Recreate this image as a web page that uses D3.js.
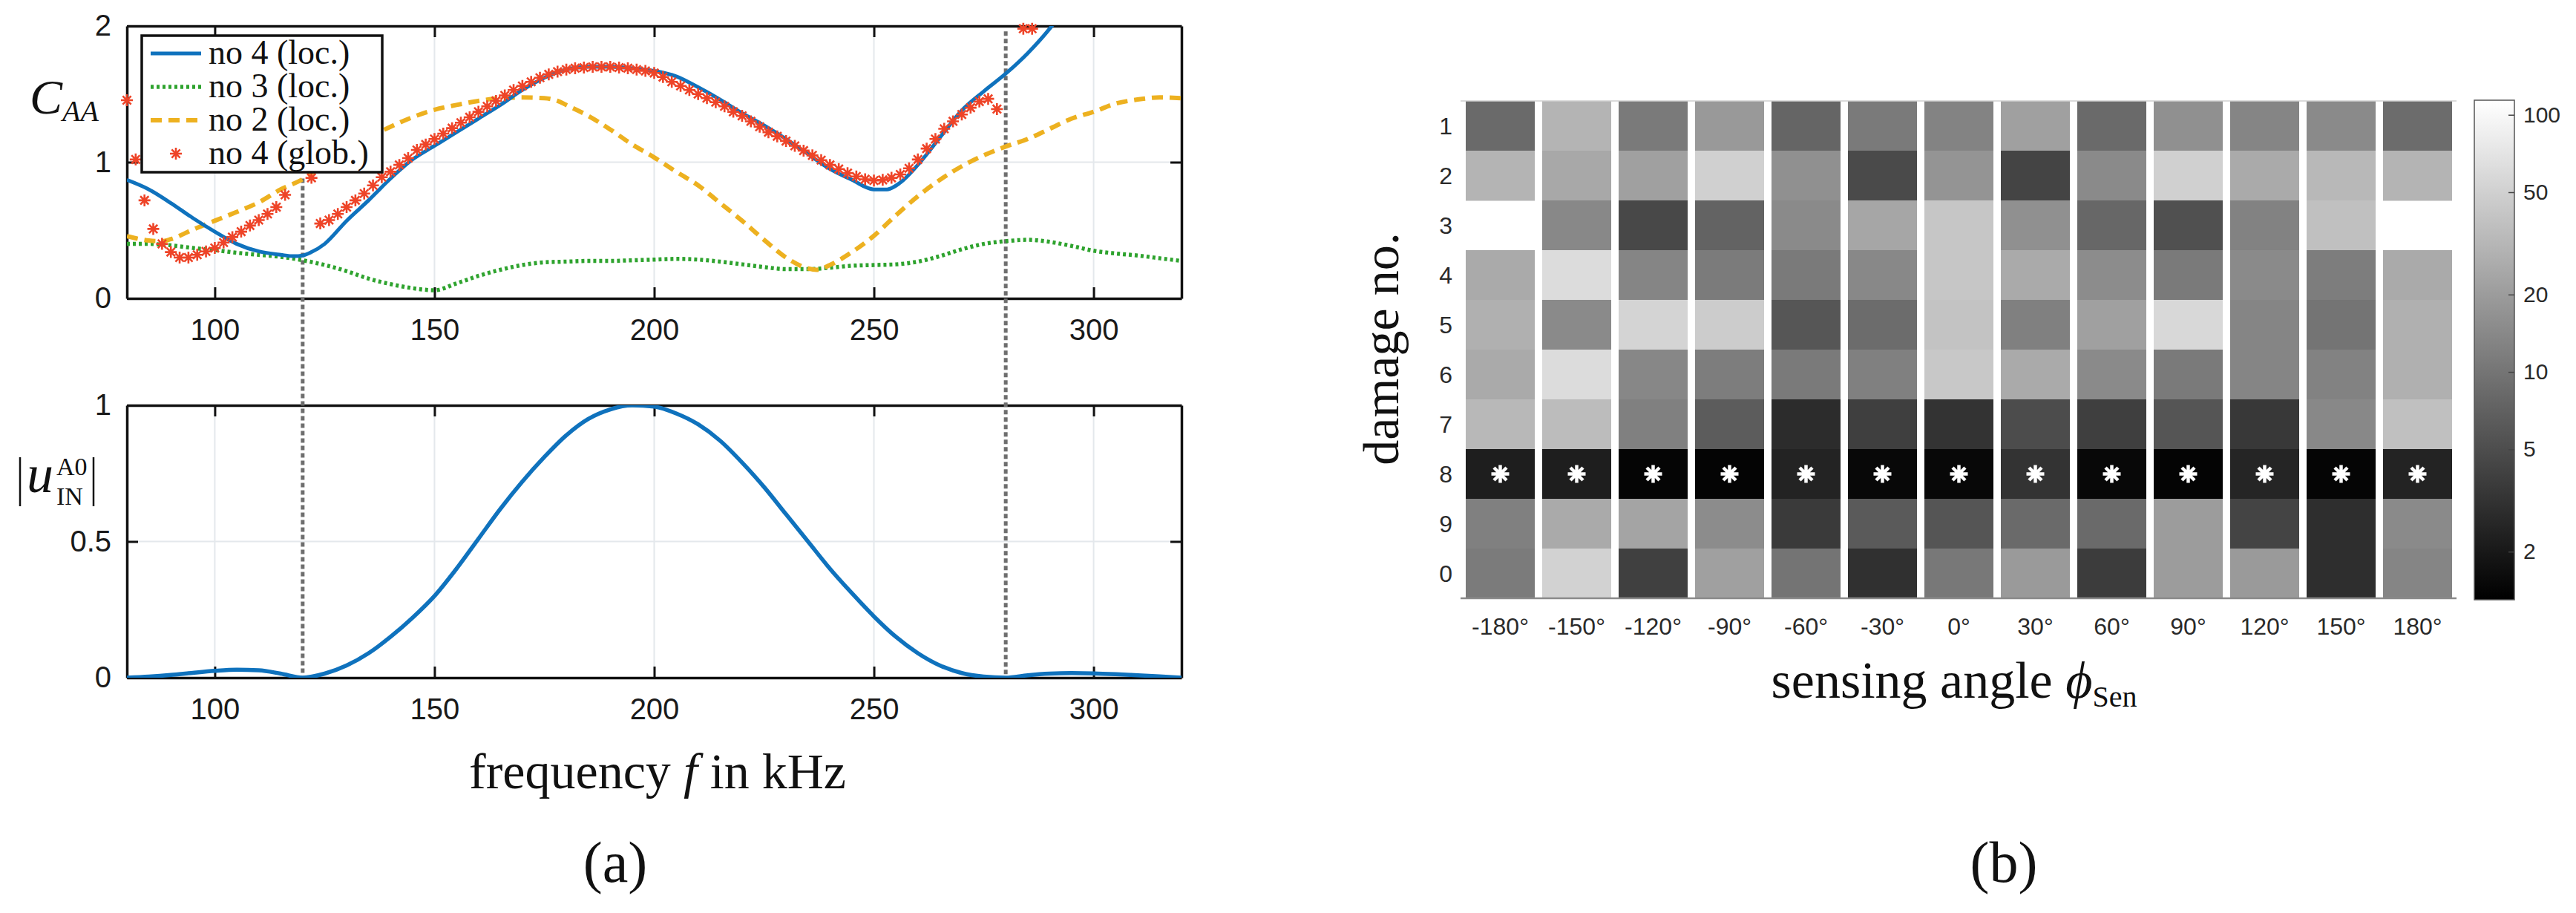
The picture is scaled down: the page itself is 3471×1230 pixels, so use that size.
<!DOCTYPE html>
<html>
<head>
<meta charset="utf-8">
<script src="https://cdn.jsdelivr.net/npm/d3@7"></script>
<style>
  body { margin: 0; background: #fff; }
  svg text { font-family: "Liberation Sans", Arial, sans-serif; }
  .serif, svg text.serif { font-family: "Liberation Serif", "Times New Roman", serif; }
</style>
</head>
<body>
<svg id="fig" width="3471" height="1230"></svg>
<script>
// ---------- panel (a), top: C_AA over frequency ----------
const xTicks = [100, 150, 200, 250, 300];

const blueF = [80,85,90,95,100,105,110,115,118,120,122,125,130,135,140,145,150,155,160,165,170,175,180,185,190,195,200,205,210,215,220,225,230,235,240,245,250,253,256,260,265,270,275,280,285,290,295];
const blueC = [0.87,0.80,0.70,0.59,0.49,0.40,0.345,0.32,0.31,0.315,0.34,0.40,0.57,0.72,0.88,1.02,1.12,1.22,1.32,1.42,1.53,1.62,1.68,1.70,1.70,1.69,1.67,1.63,1.55,1.46,1.36,1.27,1.17,1.06,0.95,0.87,0.80,0.80,0.85,0.98,1.18,1.38,1.52,1.65,1.80,1.98,2.2];

const greenF = [80,85,90,95,100,105,110,115,120,125,130,135,140,145,150,155,160,165,170,175,180,185,190,195,200,205,210,215,220,225,230,235,240,245,250,255,260,265,270,275,280,285,290,295,300,305,310,315,320];
const greenC = [0.40,0.40,0.39,0.37,0.355,0.335,0.32,0.305,0.28,0.245,0.20,0.145,0.105,0.075,0.06,0.11,0.165,0.21,0.245,0.265,0.27,0.275,0.275,0.28,0.285,0.29,0.285,0.27,0.25,0.23,0.215,0.215,0.225,0.24,0.245,0.25,0.27,0.31,0.36,0.40,0.42,0.43,0.415,0.385,0.35,0.33,0.315,0.295,0.275];

const yellowF = [80,85,88,90,95,100,105,110,115,120,125,130,135,140,145,150,155,160,165,170,175,178,180,185,190,195,200,205,210,215,220,225,230,235,237,240,245,250,255,260,265,270,275,280,285,290,295,300,305,310,315,320];
const yellowC = [0.457,0.425,0.42,0.435,0.505,0.57,0.635,0.705,0.80,0.875,0.99,1.08,1.18,1.26,1.33,1.385,1.42,1.45,1.47,1.475,1.47,1.45,1.42,1.34,1.24,1.13,1.035,0.93,0.83,0.70,0.57,0.43,0.30,0.22,0.21,0.245,0.34,0.46,0.61,0.75,0.87,0.97,1.05,1.115,1.17,1.245,1.32,1.37,1.43,1.46,1.475,1.47];

const redF = [80,82,84,86,88,90,92,94,96,98,100,102,104,106,108,110,112,114,116,122,
  124,126,128,130,132,134,136,138,140,142,144,146,148,150,152,154,156,158,160,162,164,166,168,170,172,174,176,178,180,182,184,186,188,190,192,194,196,198,200,202,204,206,208,210,212,214,216,218,220,222,224,226,228,230,232,234,236,238,240,242,244,246,248,250,252,254,256,258,260,262,264,266,268,270,272,274,276,278,284,286];
const redC = [1.455,1.02,0.72,0.51,0.40,0.34,0.30,0.30,0.32,0.345,0.37,0.41,0.45,0.49,0.535,0.575,0.62,0.67,0.76,0.885,
  0.55,0.575,0.62,0.67,0.72,0.77,0.83,0.89,0.93,0.98,1.03,1.09,1.13,1.17,1.21,1.25,1.29,1.33,1.37,1.41,1.45,1.49,1.53,1.56,1.59,1.62,1.645,1.665,1.68,1.69,1.695,1.70,1.70,1.70,1.695,1.69,1.68,1.67,1.655,1.625,1.59,1.56,1.53,1.50,1.47,1.44,1.41,1.37,1.34,1.30,1.26,1.22,1.19,1.155,1.12,1.085,1.05,1.015,0.98,0.95,0.92,0.895,0.875,0.865,0.87,0.885,0.91,0.955,1.02,1.10,1.17,1.245,1.30,1.35,1.40,1.445,1.465,1.39,1.98,1.98];

// ---------- panel (a), bottom: |u_IN^A0| ----------
const uF = [80,85,90,95,100,105,110,115,120,125,130,135,140,145,150,155,160,165,170,175,180,185,190,195,200,205,210,215,220,225,230,235,240,245,250,255,260,265,270,275,280,285,290,295,300,305,310,315,320];
const uVal = [0.0,0.004,0.01,0.018,0.025,0.029,0.027,0.015,0.0,0.015,0.045,0.09,0.15,0.22,0.30,0.40,0.51,0.62,0.72,0.81,0.89,0.95,0.985,1.0,0.995,0.97,0.93,0.87,0.79,0.70,0.60,0.50,0.40,0.31,0.225,0.15,0.09,0.045,0.017,0.004,0.0,0.009,0.015,0.017,0.016,0.013,0.009,0.005,0.0];

// band edges (dotted verticals): frequency and the C_AA level where they start
const edgeF = [120, 280];
const edgeTop = [0.88, 1.96];

// ---------- panel (b): heat map ----------
const angleLabels = ["-180°","-150°","-120°","-90°","-60°","-30°","0°","30°","60°","90°","120°","150°","180°"];
const damageLabels = ["1","2","3","4","5","6","7","8","9","0"];
const damageRows = [
  [8.4, 30.6, 11.1, 19, 7.7, 11.1, 13, 21.5, 8.4, 16.3, 13.4, 14.6, 8.7],
  [30.6, 24.8, 21.5, 50, 16.3, 4.8, 17.5, 4.3, 14.6, 50, 25.7, 32.8, 30.6],
  [null, 14.1, 4.6, 7.4, 14.6, 24, 42, 16.3, 7.9, 5.3, 12.7, 37.8, null],
  [25.7, 61.7, 13.4, 11.3, 11.1, 14.1, 42, 25.7, 15.2, 11.1, 14.6, 11.7, 25.7],
  [28.5, 14.6, 53.6, 46.6, 5.9, 8.7, 40, 12.3, 21.5, 57.5, 13.4, 10, 28.5],
  [25.7, 61.7, 13.9, 11.7, 11.1, 12.3, 43.4, 25.7, 14.6, 11.1, 13.4, 12.7, 28.5],
  [32.8, 35, 12.3, 6.5, 2.8, 3.9, 3.2, 4.9, 3.9, 5.8, 3.5, 14.1, 37.8],
  [2.2, 2.2, 1.42, 1.39, 2.4, 1.5, 1.5, 3.2, 1.5, 1.39, 2.5, 1.42, 2.4],
  [12.3, 25.7, 23, 15.2, 3.6, 6.3, 5.8, 8.4, 8.4, 20, 4.3, 2.9, 14.6],
  [11.3, 51.8, 4.0, 21.5, 10, 3.0, 10.7, 19.4, 3.7, 20, 19.4, 2.9, 13.4]
];
const cbDomain = [1.3, 114];
const cbTicks = [2, 5, 10, 20, 50, 100];

// ============================================================
const svg = d3.select("#fig");
svg.append("rect").attr("width", 3471).attr("height", 1230).attr("fill", "#fff");

const x = d3.scaleLinear().domain([80, 320]).range([171, 1592]);
const yTop = d3.scaleLinear().domain([0, 2]).range([402, 35]);
const yBot = d3.scaleLinear().domain([0, 1]).range([913, 546]);

function zip(fs, vs) { return fs.map((f, i) => ({ f, v: vs[i] })); }

function drawFrame(y, yTicks, yFmt, id) {
  const [y0, y1] = y.range();
  const g = svg.append("g");
  // grid
  g.selectAll(".gx").data(xTicks).enter().append("line")
    .attr("x1", d => x(d)).attr("x2", d => x(d)).attr("y1", y0).attr("y2", y1)
    .attr("stroke", "#e4e8ec").attr("stroke-width", 2);
  g.selectAll(".gy").data(yTicks.filter(t => t > y.domain()[0] && t < y.domain()[1])).enter().append("line")
    .attr("x1", x.range()[0]).attr("x2", x.range()[1]).attr("y1", d => y(d)).attr("y2", d => y(d))
    .attr("stroke", "#e4e8ec").attr("stroke-width", 2);

  const styleAxis = sel => {
    sel.select(".domain").attr("stroke", "#111").attr("stroke-width", 3.5);
    sel.selectAll(".tick line").attr("stroke", "#111").attr("stroke-width", 3);
    sel.selectAll(".tick text").attr("font-size", 40).attr("fill", "#1a1a1a");
  };
  svg.append("g").attr("transform", `translate(0,${y0})`)
    .call(d3.axisBottom(x).tickValues(xTicks).tickSizeInner(-15).tickSizeOuter(0).tickPadding(28))
    .call(styleAxis);
  svg.append("g").attr("transform", `translate(0,${y1})`)
    .call(d3.axisTop(x).tickValues(xTicks).tickSizeInner(-15).tickSizeOuter(0).tickFormat(""))
    .call(styleAxis);
  svg.append("g").attr("transform", `translate(${x.range()[0]},0)`)
    .call(d3.axisLeft(y).tickValues(yTicks).tickSizeInner(-15).tickSizeOuter(0).tickPadding(21).tickFormat(yFmt))
    .call(styleAxis);
  svg.append("g").attr("transform", `translate(${x.range()[1]},0)`)
    .call(d3.axisRight(y).tickValues(yTicks).tickSizeInner(-15).tickSizeOuter(0).tickFormat(""))
    .call(styleAxis);

  svg.append("clipPath").attr("id", id).append("rect")
    .attr("x", x.range()[0]).attr("y", y1)
    .attr("width", x.range()[1] - x.range()[0]).attr("height", y0 - y1);
}

drawFrame(yTop, [0, 1, 2], d3.format("d"), "clipTop");
drawFrame(yBot, [0, 0.5, 1], d => d === 0.5 ? "0.5" : d3.format("d")(d), "clipBot");

// dotted band edges spanning both axes
svg.selectAll(".edge").data(edgeF.map((f, i) => ({ f, top: edgeTop[i] }))).enter().append("line")
  .attr("x1", d => x(d.f)).attr("x2", d => x(d.f))
  .attr("y1", d => yTop(d.top)).attr("y2", yBot(0))
  .attr("stroke", "#6e6e6e").attr("stroke-width", 5).attr("stroke-dasharray", "6,4");

const lineTop = d3.line().x(d => x(d.f)).y(d => yTop(d.v)).curve(d3.curveMonotoneX);
const gTop = svg.append("g").attr("clip-path", "url(#clipTop)");

gTop.append("path").datum(zip(greenF, greenC)).attr("d", lineTop)
  .attr("fill", "none").attr("stroke", "#2ea32e").attr("stroke-width", 5.5).attr("stroke-dasharray", "4,4");
gTop.append("path").datum(zip(yellowF, yellowC)).attr("d", lineTop)
  .attr("fill", "none").attr("stroke", "#edb120").attr("stroke-width", 6).attr("stroke-dasharray", "15,9");
gTop.append("path").datum(zip(blueF, blueC)).attr("d", lineTop)
  .attr("fill", "none").attr("stroke", "#0f72bd").attr("stroke-width", 5);

function starPath(r) {
  const d = r * 0.707;
  return `M${-r},0L${r},0M0,${-r}L0,${r}M${-d},${-d}L${d},${d}M${-d},${d}L${d},${-d}`;
}
svg.append("g").selectAll("path").data(zip(redF, redC)).enter().append("path")
  .attr("transform", d => `translate(${x(d.f)},${yTop(d.v)})`)
  .attr("d", starPath(8)).attr("fill", "none")
  .attr("stroke", "#ee4428").attr("stroke-width", 2.6);

// legend
const legendItems = [
  { label: "no 4 (loc.)", kind: "solid" },
  { label: "no 3 (loc.)", kind: "dot" },
  { label: "no 2 (loc.)", kind: "dash" },
  { label: "no 4 (glob.)", kind: "star" }
];
const lg = svg.append("g");
lg.append("rect").attr("x", 191).attr("y", 48).attr("width", 324).attr("height", 184)
  .attr("fill", "#fff").attr("stroke", "#111").attr("stroke-width", 3.5);
legendItems.forEach((d, i) => {
  const cy = 72 + i * 45;
  if (d.kind === "star") {
    lg.append("path").attr("transform", `translate(237,${cy})`).attr("d", starPath(8))
      .attr("stroke", "#ee4428").attr("stroke-width", 2.6).attr("fill", "none");
  } else {
    const st = { solid: ["#0f72bd", 5, null], dot: ["#2ea32e", 5.5, "4,4"], dash: ["#edb120", 6, "15,9"] }[d.kind];
    lg.append("line").attr("x1", 203).attr("x2", 271).attr("y1", cy).attr("y2", cy)
      .attr("stroke", st[0]).attr("stroke-width", st[1]).attr("stroke-dasharray", st[2]);
  }
  lg.append("text").attr("class", "serif").attr("x", 281).attr("y", cy + 14)
    .attr("font-size", 46).attr("fill", "#111").text(d.label);
});

// y label C_AA
const cLab = svg.append("text").attr("class", "serif").attr("x", 40).attr("y", 153)
  .attr("font-style", "italic").attr("fill", "#111");
cLab.append("tspan").attr("font-size", 66).text("C");
cLab.append("tspan").attr("font-size", 40).attr("dy", 10).text("AA");

// bottom line
const lineBot = d3.line().x(d => x(d.f)).y(d => yBot(d.v)).curve(d3.curveMonotoneX);
svg.append("g").attr("clip-path", "url(#clipBot)").append("path").datum(zip(uF, uVal)).attr("d", lineBot)
  .attr("fill", "none").attr("stroke", "#0f72bd").attr("stroke-width", 5.5);

// y label |u_IN^A0|
svg.append("line").attr("x1", 27).attr("x2", 27).attr("y1", 616).attr("y2", 682).attr("stroke", "#111").attr("stroke-width", 2.5);
svg.append("line").attr("x1", 126).attr("x2", 126).attr("y1", 616).attr("y2", 682).attr("stroke", "#111").attr("stroke-width", 2.5);
svg.append("text").attr("class", "serif").attr("x", 36).attr("y", 663).attr("font-size", 72)
  .attr("font-style", "italic").attr("fill", "#111").text("u");
svg.append("text").attr("class", "serif").attr("x", 76).attr("y", 640).attr("font-size", 34).attr("fill", "#111").text("A0");
svg.append("text").attr("class", "serif").attr("x", 76).attr("y", 680).attr("font-size", 34).attr("fill", "#111").text("IN");

// x label
const fx = svg.append("text").attr("class", "serif").attr("x", 886).attr("y", 1062)
  .attr("text-anchor", "middle").attr("font-size", 68).attr("fill", "#111");
fx.append("tspan").text("frequency ");
fx.append("tspan").attr("font-style", "italic").text("f");
fx.append("tspan").text(" in kHz");

svg.append("text").attr("class", "serif").attr("x", 829).attr("y", 1188)
  .attr("text-anchor", "middle").attr("font-size", 78).attr("fill", "#111").text("(a)");

// ============================================================
// panel (b)
const xb = d3.scaleBand().domain(angleLabels).range([1975, 3304]).paddingInner(0.097).paddingOuter(0);
const yb = d3.scaleBand().domain(damageLabels).range([136, 806]);
const color = d3.scaleLog().domain(cbDomain).range(["#000000", "#ffffff"]).clamp(true);

const cells = [];
damageRows.forEach((row, r) => row.forEach((v, c) => {
  if (v !== null) cells.push({ d: damageLabels[r], a: angleLabels[c], v });
}));
svg.append("g").selectAll("rect").data(cells).enter().append("rect")
  .attr("x", d => xb(d.a)).attr("y", d => yb(d.d))
  .attr("width", xb.bandwidth()).attr("height", yb.bandwidth() + 0.5)
  .attr("fill", d => color(d.v));

svg.append("line").attr("x1", 1968).attr("x2", 3310).attr("y1", 136).attr("y2", 136)
  .attr("stroke", "#cfcfcf").attr("stroke-width", 1.5);
svg.append("line").attr("x1", 1968).attr("x2", 3310).attr("y1", 806).attr("y2", 806)
  .attr("stroke", "#8a8a8a").attr("stroke-width", 2.5);

// minimum per column marked with asterisk
const mins = angleLabels.map((a, c) => {
  let best = null;
  damageRows.forEach((row, r) => {
    if (row[c] !== null && (best === null || row[c] < best.v)) best = { a, d: damageLabels[r], v: row[c] };
  });
  return best;
});
svg.append("g").selectAll("path").data(mins).enter().append("path")
  .attr("transform", d => `translate(${xb(d.a) + xb.bandwidth() / 2},${yb(d.d) + yb.bandwidth() / 2})`)
  .attr("d", starPath(12)).attr("stroke", "#fff").attr("stroke-width", 4.5).attr("fill", "none");

svg.append("g").selectAll("text").data(damageLabels).enter().append("text")
  .attr("x", 1957).attr("y", d => yb(d) + yb.bandwidth() / 2).attr("dy", "0.36em")
  .attr("text-anchor", "end").attr("font-size", 32).attr("fill", "#2a2a2a").text(d => d);
svg.append("g").selectAll("text").data(angleLabels).enter().append("text")
  .attr("x", d => xb(d) + xb.bandwidth() / 2).attr("y", 855)
  .attr("text-anchor", "middle").attr("font-size", 32).attr("fill", "#2a2a2a").text(d => d);

svg.append("text").attr("class", "serif").attr("transform", "translate(1884,470) rotate(-90)")
  .attr("text-anchor", "middle").attr("font-size", 68).attr("fill", "#111").text("damage no.");

const sx = svg.append("text").attr("class", "serif").attr("x", 2633).attr("y", 940)
  .attr("text-anchor", "middle").attr("font-size", 70).attr("fill", "#111");
sx.append("tspan").text("sensing angle ");
sx.append("tspan").attr("font-style", "italic").text("ϕ");
sx.append("tspan").attr("font-size", 40).attr("dy", 12).text("Sen");

svg.append("text").attr("class", "serif").attr("x", 2700).attr("y", 1188)
  .attr("text-anchor", "middle").attr("font-size", 78).attr("fill", "#111").text("(b)");

// colour bar
const cbY = d3.scaleLog().domain(cbDomain).range([808, 135]);
const grad = svg.append("defs").append("linearGradient").attr("id", "cbGrad")
  .attr("x1", "0%").attr("x2", "0%").attr("y1", "100%").attr("y2", "0%");
d3.range(0, 1.0001, 0.1).forEach(t => {
  grad.append("stop").attr("offset", `${t * 100}%`).attr("stop-color", color(cbY.invert(808 - t * 673)));
});
svg.append("rect").attr("x", 3334).attr("y", 135).attr("width", 54).attr("height", 673)
  .attr("fill", "url(#cbGrad)").attr("stroke", "#555").attr("stroke-width", 1.5);
const cbAxis = svg.append("g").attr("transform", "translate(3388,0)")
  .call(d3.axisRight(cbY).tickValues(cbTicks).tickFormat(d3.format("d")).tickSizeInner(-8).tickSizeOuter(0).tickPadding(12));
cbAxis.select(".domain").remove();
cbAxis.selectAll(".tick line").attr("stroke", "#444").attr("stroke-width", 1.5);
cbAxis.selectAll(".tick text").attr("font-size", 30).attr("fill", "#2a2a2a");
</script>
</body>
</html>
